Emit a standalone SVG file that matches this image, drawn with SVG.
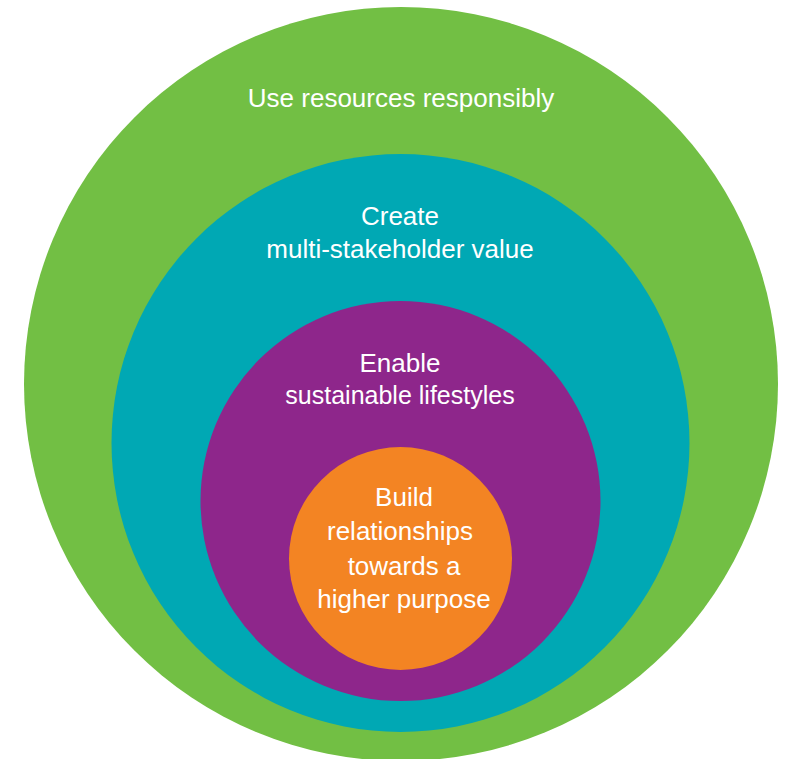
<svg xmlns="http://www.w3.org/2000/svg" width="787" height="759" viewBox="0 0 787 759">
<style>
  .lbl { font-family: "Liberation Sans", Arial, sans-serif; font-size: 26px; fill: #ffffff; text-anchor: middle; }
</style>
<rect width="787" height="759" fill="#ffffff"/>
<g id="node-resources">
  <circle cx="401" cy="384" r="377" fill="#72BF44"/>
  <text class="lbl" x="401" y="107">Use resources responsibly</text>
</g>
<g id="node-value">
  <circle cx="400.5" cy="443" r="289" fill="#00A8B4"/>
  <text class="lbl" x="400" y="225">Create</text>
  <text class="lbl" x="400" y="258">multi-stakeholder value</text>
</g>
<g id="node-lifestyles">
  <circle cx="400.5" cy="501" r="200" fill="#8E268B"/>
  <text class="lbl" x="400" y="372">Enable</text>
  <text class="lbl" x="400" y="404" style="font-size:25px">sustainable lifestyles</text>
</g>
<g id="node-purpose">
  <circle cx="400.5" cy="558.5" r="111.5" fill="#F38423"/>
  <text class="lbl" x="404" y="506">Build</text>
  <text class="lbl" x="400" y="540">relationships</text>
  <text class="lbl" x="404" y="575">towards a</text>
  <text class="lbl" x="404" y="608">higher purpose</text>
</g>
<g id="connectors"></g>
</svg>
